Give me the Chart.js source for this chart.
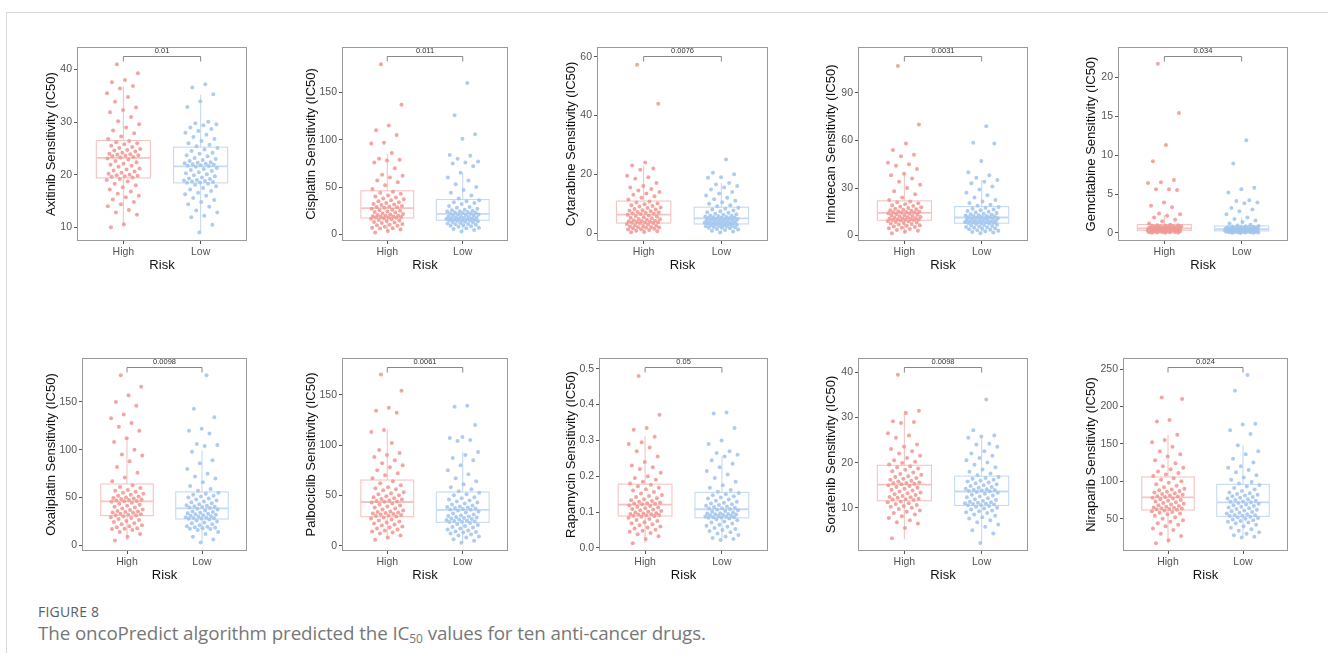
<!DOCTYPE html>
<html>
<head>
<meta charset="utf-8">
<script src="https://cdn.jsdelivr.net/npm/chart.js@4.4.1/dist/chart.umd.min.js"></script>
<style>
  html, body { margin: 0; padding: 0; background: #fff; }
  body { width: 1328px; height: 665px; position: relative; overflow: hidden; }
  .frame { position: absolute; left: 6px; top: 12px; width: 1322px; height: 640px;
           border-left: 1px solid #d9d9d9; border-top: 1px solid #d9d9d9; }
  canvas.panel { position: absolute; }
  .fig { position: absolute; left: 38px; top: 603px; font: 400 14px/18px "Open Sans", sans-serif;
         color: #55606b; letter-spacing: 0.2px; }
  .cap { position: absolute; left: 38px; top: 621px; font: 400 18.8px/24px "Open Sans", sans-serif;
         color: #777; white-space: nowrap; letter-spacing: -0.1px; }
  .cap sub { font-size: 12px; vertical-align: -3px; line-height: 0; }
</style>
</head>
<body>
<div class="frame"></div>
<div class="fig">FIGURE 8</div>
<div class="cap">The oncoPredict algorithm predicted the IC<sub>50</sub> values for ten anti-cancer drugs.</div>
<script>
/* ---------- Daten ---------- */
const CATEGORIES = ["High", "Low"];
const DRUGS = ["Axitinib", "Cisplatin", "Cytarabine", "Irinotecan", "Gemcitabine",
               "Oxaliplatin", "Palbociclib", "Rapamycin", "Sorafenib", "Niraparib"];
const P_VALUES = ["0.01", "0.011", "0.0076", "0.0031", "0.034",
                  "0.0098", "0.0061", "0.05", "0.0098", "0.024"];
const Y_MIN = [7.4, -7.1, -2.7, -3.4, -1.03, -5.9, -5.3, -0.0085, 0.4, 6.8];
const Y_MAX = [44.3, 198.2, 63.3, 118.9, 23.86, 196, 186.5, 0.53, 43.2, 264.7];
const Y_TICKS = [
  [10, 20, 30, 40], [0, 50, 100, 150], [0, 20, 40, 60], [0, 30, 60, 90], [0, 5, 10, 15, 20],
  [0, 50, 100, 150], [0, 50, 100, 150], [0, 0.1, 0.2, 0.3, 0.4, 0.5], [10, 20, 30, 40],
  [50, 100, 150, 200, 250]
];
// [Whisker unten, Q1, Median, Q3, Whisker oben]
const BOX_HIGH = [
  [10, 19.4, 23.2, 26.5, 36.9], [2, 17.3, 27.6, 46, 85], [0.3, 3.4, 6.3, 10.9, 23],
  [1.5, 9.7, 14.3, 21.9, 40], [0.02, 0.35, 0.6, 1.08, 2.3], [5, 31.1, 46, 64.2, 113],
  [6, 28.8, 43.4, 65.2, 115], [0.013, 0.089, 0.121, 0.178, 0.312], [3, 11.55, 15.1, 19.4, 31.5],
  [17, 61.6, 78.5, 105.7, 162]
];
const BOX_LOW = [
  [9, 18.45, 21.6, 25.25, 35.2], [3, 14.9, 21.5, 36.8, 65], [0.2, 3.1, 5.0, 8.8, 17],
  [1.5, 7.8, 11.4, 18.3, 35], [0.01, 0.26, 0.5, 0.9, 2.0], [3, 27.6, 38.7, 55.9, 99],
  [3, 23.2, 35.5, 53.3, 93.4], [0.022, 0.084, 0.108, 0.155, 0.255], [2.2, 10.5, 13.6, 17.0, 25.8],
  [25, 53, 71.8, 95.8, 148.5]
];

const AXITINIB_HIGH = [41.0, 39.3, 38.0, 37.6, 36.9, 36.4, 35.5, 34.8, 33.9, 32.8, 32.3, 31.9, 31.0, 30.2, 29.6, 29.0, 28.4, 27.9, 27.3, 26.8,
  26.4, 26.2, 26.0, 25.8, 25.5, 25.3, 25.1, 24.9, 24.7, 24.6, 24.4, 24.2, 24.0, 23.9, 23.8, 23.7, 23.6, 23.5, 23.4, 23.3,
  23.1, 22.9, 22.6, 22.4, 22.1, 21.9, 21.7, 21.5, 21.2, 21.0, 20.8, 20.6, 20.4, 20.2, 20.0, 19.9, 19.8, 19.7, 19.6, 19.5,
  19.2, 19.0, 18.7, 18.3, 18.0, 17.6, 17.2, 16.8, 16.4, 16.0, 15.7, 15.3, 14.8, 14.4, 14.0, 13.3, 12.8, 12.4, 10.6, 10.0];
const AXITINIB_LOW = [37.2, 36.6, 35.3, 34.0, 32.9, 30.1, 29.8, 29.6, 29.4, 29.0, 28.7, 28.3, 28.0, 27.6, 27.2, 26.8, 26.4, 26.0, 25.7, 25.4,
  25.1, 24.8, 24.5, 24.2, 24.0, 23.7, 23.5, 23.2, 23.0, 22.8, 22.6, 22.4, 22.3, 22.2, 22.1, 22.0, 21.9, 21.8, 21.7, 21.65,
  21.5, 21.3, 21.1, 20.9, 20.7, 20.5, 20.3, 20.1, 19.9, 19.7, 19.5, 19.3, 19.2, 19.0, 18.9, 18.8, 18.7, 18.6, 18.55, 18.5,
  18.3, 18.1, 17.8, 17.5, 17.2, 16.9, 16.6, 16.3, 16.0, 15.6, 15.2, 14.8, 14.4, 13.9, 13.2, 12.8, 12.2, 11.9, 10.5, 9.0];
const CISPLATIN_HIGH = [180, 137, 115, 110, 105, 97, 96, 86, 80, 79, 78, 76, 70, 63, 62, 60, 57, 55, 52, 48,
  45, 44, 43, 41, 40, 39, 38, 37, 36, 35, 34, 33, 32, 31.5, 31, 30, 29.5, 29, 28.5, 28,
  27, 26, 25.5, 25, 24, 23.5, 23, 22, 21.5, 21, 20.5, 20, 19.5, 19, 18.8, 18.5, 18.2, 18, 17.8, 17.5,
  17, 16.5, 16, 15, 14.5, 14, 13, 12.5, 12, 11, 10, 9.5, 9, 8, 7, 6.5, 6, 5, 3.5, 2];
const CISPLATIN_LOW = [160, 126, 106, 101, 84, 83, 80, 77, 76, 75, 72, 65, 60, 57, 53, 50, 47, 44, 41, 38,
  36, 35, 34, 33, 32, 30, 29, 28, 27, 26, 25.5, 25, 24.5, 24, 23.5, 23, 22.8, 22.5, 22, 21.8,
  21.2, 21, 20.5, 20, 19.5, 19, 18.6, 18.3, 18, 17.6, 17.3, 17, 16.7, 16.4, 16.1, 15.8, 15.5, 15.3, 15.1, 15,
  14.6, 14.2, 13.8, 13.4, 13, 12.5, 12, 11.5, 11, 10.5, 10, 9.5, 9, 8.5, 8, 7, 6.5, 5.5, 4.5, 3];
const CYTARABINE_HIGH = [57.3, 44, 24, 23, 22, 21.5, 19.5, 19, 18.5, 17, 16, 15.5, 15, 14.5, 14, 13.5, 13, 12.5, 12, 11.4,
  10.7, 10.4, 10.1, 9.8, 9.5, 9.2, 9, 8.7, 8.5, 8.2, 8, 7.8, 7.6, 7.4, 7.2, 7, 6.9, 6.7, 6.6, 6.5,
  6.2, 6, 5.8, 5.6, 5.4, 5.2, 5, 4.8, 4.7, 4.5, 4.4, 4.2, 4.1, 4, 3.9, 3.8, 3.7, 3.6, 3.5, 3.45,
  3.3, 3.1, 2.9, 2.7, 2.5, 2.4, 2.2, 2.1, 2, 1.9, 1.8, 1.6, 1.5, 1.3, 1.2, 1, 0.8, 0.6, 0.4, 0.3];
const CYTARABINE_LOW = [25, 20.5, 20, 19, 18.8, 17, 16.5, 16, 15.5, 14.8, 14, 13.5, 12.8, 12, 11.5, 11, 10.5, 10, 9.5, 9.1,
  8.6, 8.3, 8, 7.7, 7.4, 7.1, 6.9, 6.6, 6.4, 6.2, 6, 5.9, 5.7, 5.6, 5.5, 5.4, 5.3, 5.2, 5.1, 5.05,
  4.9, 4.8, 4.7, 4.6, 4.5, 4.4, 4.3, 4.2, 4.1, 4, 3.9, 3.8, 3.7, 3.6, 3.5, 3.4, 3.35, 3.3, 3.2, 3.15,
  3, 2.9, 2.8, 2.7, 2.6, 2.5, 2.4, 2.3, 2.2, 2.1, 2, 1.9, 1.8, 1.6, 1.4, 1.2, 1, 0.8, 0.5, 0.2];
const IRINOTECAN_HIGH = [107, 70, 58, 54, 51, 50, 46, 45, 44, 42, 39, 38, 36, 34, 32, 30, 28, 26, 24, 22.5,
  21.5, 21, 20.4, 19.8, 19.2, 18.7, 18.2, 17.8, 17.4, 17, 16.6, 16.3, 16, 15.7, 15.4, 15.1, 14.9, 14.7, 14.5, 14.4,
  14.1, 13.8, 13.5, 13.2, 12.9, 12.6, 12.3, 12, 11.7, 11.5, 11.2, 11, 10.8, 10.6, 10.4, 10.2, 10.1, 10, 9.9, 9.8,
  9.5, 9.2, 8.9, 8.6, 8.3, 8, 7.7, 7.3, 7, 6.6, 6.2, 5.8, 5.4, 5, 4.6, 4.2, 3.6, 3, 2.4, 1.5];
const IRINOTECAN_LOW = [69, 58.5, 58, 47, 40, 38, 36.5, 35, 34, 33, 31, 29, 27, 25.5, 24, 22.5, 21.5, 20.5, 19.5, 18.8,
  18, 17.5, 17, 16.5, 16, 15.5, 15, 14.6, 14.2, 13.8, 13.5, 13.2, 12.9, 12.6, 12.4, 12.2, 12, 11.8, 11.6, 11.5,
  11.2, 11, 10.8, 10.6, 10.4, 10.2, 10, 9.8, 9.6, 9.4, 9.2, 9, 8.8, 8.6, 8.5, 8.4, 8.2, 8.1, 8, 7.9,
  7.6, 7.3, 7, 6.7, 6.4, 6.1, 5.8, 5.5, 5.2, 4.9, 4.6, 4.3, 4, 3.7, 3.4, 3, 2.7, 2.3, 1.9, 1.5];
const GEMCITABINE_HIGH = [21.7, 15.4, 11.3, 9.2, 6.8, 6.5, 6.4, 5.6, 5.6, 5.5, 3.9, 3.5, 3.3, 2.5, 2.4, 2.2, 2.0, 1.7, 1.5, 1.2,
  1.05, 1.0, 0.98, 0.95, 0.92, 0.9, 0.87, 0.85, 0.82, 0.8, 0.78, 0.75, 0.72, 0.7, 0.68, 0.66, 0.65, 0.63, 0.62, 0.61,
  0.59, 0.57, 0.55, 0.53, 0.52, 0.5, 0.49, 0.47, 0.46, 0.45, 0.44, 0.43, 0.42, 0.41, 0.4, 0.39, 0.38, 0.37, 0.36, 0.355,
  0.34, 0.32, 0.3, 0.28, 0.27, 0.25, 0.23, 0.22, 0.2, 0.18, 0.17, 0.15, 0.13, 0.12, 0.1, 0.08, 0.07, 0.05, 0.03, 0.02];
const GEMCITABINE_LOW = [11.9, 8.9, 5.8, 5.6, 5.2, 4.2, 4.1, 3.9, 3.8, 3.2, 3.0, 2.8, 2.4, 2.0, 1.8, 1.6, 1.4, 1.2, 1.05, 0.95,
  0.88, 0.85, 0.82, 0.8, 0.77, 0.75, 0.72, 0.7, 0.68, 0.66, 0.64, 0.62, 0.6, 0.58, 0.56, 0.55, 0.54, 0.53, 0.52, 0.51,
  0.49, 0.47, 0.45, 0.44, 0.42, 0.41, 0.4, 0.38, 0.37, 0.36, 0.35, 0.34, 0.33, 0.32, 0.31, 0.3, 0.29, 0.28, 0.27, 0.265,
  0.25, 0.24, 0.22, 0.21, 0.2, 0.18, 0.17, 0.16, 0.15, 0.13, 0.12, 0.11, 0.1, 0.09, 0.08, 0.06, 0.05, 0.04, 0.02, 0.01];
const OXALIPLATIN_HIGH = [178, 166, 157, 150, 146, 137, 133, 128, 124, 120, 112, 108, 100, 95, 94, 88, 82, 76, 71, 67,
  63, 61, 60, 58, 57, 56, 55, 54, 53, 52, 51, 50, 49.5, 49, 48.5, 48, 47.5, 47, 46.5, 46.2,
  45.5, 44.5, 43.5, 42.5, 41.5, 40.5, 39.5, 38.5, 37.5, 37, 36, 35.5, 35, 34.5, 34, 33, 32.5, 32, 31.5, 31.3,
  30.5, 29.5, 28.5, 27.5, 26.5, 25.5, 24.5, 23, 22, 21, 20, 19, 18, 17.5, 17, 16, 14, 12, 9, 5];
const OXALIPLATIN_LOW = [178, 143, 134, 122, 120, 117, 106, 105, 104, 98, 89, 86, 80, 75, 72, 70, 66, 62, 59, 57,
  55, 54, 53, 52, 51, 50, 49, 48, 47, 46, 45, 44, 43, 42, 41.5, 41, 40.5, 40, 39.5, 39,
  38.3, 37.5, 36.5, 35.5, 35, 34, 33.5, 33, 32.5, 32, 31.5, 31, 30.5, 30, 29.5, 29, 28.7, 28.3, 28, 27.8,
  27, 26, 25, 24, 23, 22, 21, 20, 19.5, 19, 18.5, 18, 17.5, 17, 16, 14, 12, 9, 6, 3];
const PALBOCICLIB_HIGH = [170, 154, 137, 134, 132, 115, 113, 102, 95, 92, 90, 88, 85, 82, 80, 78, 75, 72, 70, 67,
  64, 62, 60, 58, 57, 56, 55, 53, 52, 51, 50, 49, 48, 47, 46.5, 46, 45, 44.5, 44, 43.7,
  43, 42, 41, 40, 39, 38, 37, 36, 35, 34, 33.5, 33, 32.5, 32, 31.5, 31, 30.5, 30, 29.5, 29,
  28, 27, 26, 25, 24, 23, 22, 21, 20, 19, 18, 17, 16, 15, 14, 13, 12, 10, 8, 6];
const PALBOCICLIB_LOW = [139, 138, 120, 108, 107, 105, 104, 93, 90, 87, 85, 80, 75, 71, 67, 64, 61, 58, 56, 54,
  52.5, 51, 50, 48, 47, 46, 45, 44, 43, 42, 41, 40, 39, 38.5, 38, 37.5, 37, 36.5, 36, 35.8,
  35, 34, 33, 32, 31, 30, 29.5, 29, 28.5, 28, 27.5, 27, 26.5, 26, 25.5, 25, 24.5, 24, 23.7, 23.4,
  22.5, 21.5, 20.5, 19.5, 18.5, 18, 17, 16, 15, 14, 13.5, 13, 12, 11, 10, 9, 8, 6.5, 5, 3];
const RAPAMYCIN_HIGH = [0.48, 0.372, 0.335, 0.33, 0.31, 0.295, 0.29, 0.28, 0.27, 0.255, 0.24, 0.23, 0.225, 0.22, 0.21, 0.2, 0.195, 0.19, 0.185, 0.18,
  0.176, 0.172, 0.168, 0.164, 0.16, 0.156, 0.152, 0.148, 0.145, 0.142, 0.139, 0.136, 0.133, 0.131, 0.129, 0.127, 0.125, 0.124, 0.123, 0.122,
  0.119, 0.117, 0.115, 0.113, 0.111, 0.109, 0.107, 0.105, 0.103, 0.101, 0.099, 0.097, 0.096, 0.095, 0.094, 0.093, 0.092, 0.091, 0.09, 0.0895,
  0.087, 0.084, 0.081, 0.078, 0.075, 0.072, 0.069, 0.066, 0.063, 0.06, 0.057, 0.054, 0.051, 0.048, 0.045, 0.042, 0.038, 0.033, 0.025, 0.013];
const RAPAMYCIN_LOW = [0.378, 0.375, 0.335, 0.3, 0.29, 0.27, 0.265, 0.26, 0.255, 0.245, 0.235, 0.225, 0.215, 0.205, 0.195, 0.185, 0.175, 0.168, 0.162, 0.157,
  0.153, 0.15, 0.147, 0.144, 0.141, 0.138, 0.135, 0.132, 0.129, 0.126, 0.124, 0.122, 0.12, 0.118, 0.116, 0.114, 0.112, 0.111, 0.11, 0.109,
  0.107, 0.105, 0.103, 0.101, 0.099, 0.097, 0.096, 0.095, 0.094, 0.093, 0.092, 0.091, 0.09, 0.089, 0.088, 0.087, 0.086, 0.0855, 0.085, 0.0845,
  0.082, 0.08, 0.077, 0.074, 0.071, 0.068, 0.065, 0.062, 0.059, 0.056, 0.053, 0.05, 0.047, 0.044, 0.04, 0.036, 0.032, 0.028, 0.025, 0.022];
const SORAFENIB_HIGH = [39.5, 31.5, 31, 29.2, 29, 28.8, 26.5, 26, 25.5, 24, 23.5, 23, 22.5, 22, 21.5, 21, 20.5, 20.2, 19.9, 19.6,
  19.2, 19, 18.7, 18.4, 18.1, 17.8, 17.5, 17.3, 17, 16.8, 16.6, 16.4, 16.2, 16, 15.8, 15.6, 15.5, 15.4, 15.3, 15.2,
  15, 14.8, 14.6, 14.4, 14.2, 14, 13.8, 13.6, 13.4, 13.2, 13, 12.8, 12.6, 12.4, 12.3, 12.2, 12, 11.9, 11.8, 11.7,
  11.4, 11.2, 11, 10.8, 10.6, 10.4, 10.2, 10, 9.7, 9.4, 9.1, 8.8, 8.5, 8.1, 7.7, 7.2, 6.8, 6.5, 5.5, 3.2];
const SORAFENIB_LOW = [34, 27.2, 26, 25.8, 25.5, 24.2, 24, 23.5, 22.5, 22, 21.5, 21, 20.5, 20, 19.5, 19, 18.5, 18, 17.6, 17.2,
  16.8, 16.6, 16.4, 16.2, 16, 15.8, 15.6, 15.4, 15.2, 15, 14.8, 14.6, 14.4, 14.2, 14.1, 14, 13.9, 13.8, 13.7, 13.65,
  13.5, 13.3, 13.1, 12.9, 12.7, 12.5, 12.3, 12.1, 11.9, 11.7, 11.5, 11.3, 11.2, 11.1, 11, 10.9, 10.8, 10.7, 10.6, 10.55,
  10.4, 10.2, 10, 9.8, 9.6, 9.4, 9.2, 9, 8.8, 8.5, 8.2, 7.9, 7.6, 7.2, 6.8, 6.3, 5.8, 5, 4.3, 2.2];
const NIRAPARIB_HIGH = [212, 210, 182, 180, 162, 155, 152, 146, 140, 136, 133, 128, 124, 120, 118, 116, 113, 111, 109, 107,
  104, 102, 100, 98, 96, 94, 92, 90, 89, 88, 87, 86, 85, 84, 83, 82, 81, 80, 79.5, 79,
  78, 77, 76, 75, 74, 73, 72, 71, 70, 69, 68, 67, 66, 65, 64.5, 64, 63.5, 63, 62.5, 62,
  61, 60, 59, 58, 57, 56, 54, 52, 50, 48, 46, 44, 42, 40, 37, 35, 30, 27, 21, 17];
const NIRAPARIB_LOW = [242, 221, 177, 176, 168, 163, 148, 140, 136, 130, 125, 120, 118, 115, 112, 108, 105, 102, 99, 97,
  95, 93, 91, 89, 87, 85, 84, 83, 82, 81, 80, 79, 78, 77, 76, 75, 74, 73, 72.5, 72,
  71, 70, 69, 68, 67, 66, 65, 64, 63, 62, 61, 60, 59, 58, 57, 56, 55, 54.5, 54, 53.5,
  52.5, 52, 51, 50, 49, 48, 47, 46, 45, 44, 42, 40, 38, 36, 34, 32, 30, 28, 26, 25];

const POINTS_HIGH = [AXITINIB_HIGH, CISPLATIN_HIGH, CYTARABINE_HIGH, IRINOTECAN_HIGH, GEMCITABINE_HIGH,
  OXALIPLATIN_HIGH, PALBOCICLIB_HIGH, RAPAMYCIN_HIGH, SORAFENIB_HIGH, NIRAPARIB_HIGH];
const POINTS_LOW = [AXITINIB_LOW, CISPLATIN_LOW, CYTARABINE_LOW, IRINOTECAN_LOW, GEMCITABINE_LOW,
  OXALIPLATIN_LOW, PALBOCICLIB_LOW, RAPAMYCIN_LOW, SORAFENIB_LOW, NIRAPARIB_LOW];

/* ---------- Layout (Pixel) ---------- */
// Plot-Rahmen je Panel: [links, oben, rechts, unten]; TITLE_X = Mitte des Y-Titels
const PANEL_BOX = [
  [77, 47, 247, 241], [342, 47, 508, 241], [597, 47, 768, 241], [858, 47, 1028, 241], [1118, 47, 1288, 241],
  [82, 358, 247, 551], [342, 358, 508, 551], [599, 358, 768, 551], [858, 358, 1028, 551], [1123, 358, 1288, 551]
];
const TITLE_X = [52, 312, 572, 832, 1092, 52, 312, 572, 832, 1092];

const FONT = "'Liberation Sans', Arial, Helvetica, sans-serif";
const COL_PT = ["rgba(240,152,148,0.88)", "rgba(162,197,238,0.88)"];
const COL_BOX = ["#f5c4c2", "#c5daf4"];
const PAD_TOP = 10, PAD_RIGHT = 4, X_AXIS_H = 32;

// deterministische Streuung in x (nur Position, keine Daten)
const jitter = (i) => (((i * 0.6180339887 + 0.31) % 1) - 0.5) * 0.44;

function boxPlugin(i) {
  const stats = [BOX_HIGH[i], BOX_LOW[i]];
  return {
    id: "boxes" + i,
    beforeDatasetsDraw(chart) {
      const { ctx, chartArea: a, scales: { x, y } } = chart;
      ctx.save();
      ctx.beginPath();
      ctx.rect(a.left, a.top, a.right - a.left, a.bottom - a.top);
      ctx.clip();
      stats.forEach((s, k) => {
        const cx = x.getPixelForValue(k + 1);
        const x0 = x.getPixelForValue(k + 1 - 0.35);
        const x1 = x.getPixelForValue(k + 1 + 0.35);
        const [lo, q1, med, q3, hi] = s.map((v) => y.getPixelForValue(v));
        ctx.strokeStyle = COL_BOX[k];
        ctx.lineWidth = 1.1;
        ctx.beginPath();
        ctx.moveTo(cx, hi); ctx.lineTo(cx, q3);
        ctx.moveTo(cx, q1); ctx.lineTo(cx, lo);
        ctx.stroke();
        ctx.strokeRect(x0, q3, x1 - x0, q1 - q3);
        ctx.lineWidth = 1.8;
        ctx.beginPath();
        ctx.moveTo(x0, med); ctx.lineTo(x1, med);
        ctx.stroke();
      });
      ctx.restore();
    },
    afterDraw(chart) {
      const { ctx, chartArea: a, scales: { x } } = chart;
      ctx.save();
      // Panel-Rahmen
      ctx.strokeStyle = "#9a9a9a";
      ctx.lineWidth = 1;
      ctx.strokeRect(Math.round(a.left) + 0.5, Math.round(a.top) + 0.5,
        Math.round(a.right - a.left) - 1, Math.round(a.bottom - a.top) - 1);
      // Signifikanz-Klammer
      const xa = x.getPixelForValue(1), xb = x.getPixelForValue(2);
      const yb = a.top + 9.5;
      ctx.strokeStyle = "#6a6a6a";
      ctx.lineWidth = 0.8;
      ctx.beginPath();
      ctx.moveTo(xa, yb + 5); ctx.lineTo(xa, yb); ctx.lineTo(xb, yb); ctx.lineTo(xb, yb + 5);
      ctx.stroke();
      ctx.fillStyle = "#333";
      ctx.font = "7.5px " + FONT;
      ctx.textAlign = "center";
      ctx.textBaseline = "middle";
      ctx.fillText(P_VALUES[i], (xa + xb) / 2, a.top + 4);
      ctx.restore();
    }
  };
}

DRUGS.forEach((drug, i) => {
  const [bl, bt, br, bb] = PANEL_BOX[i];
  const left = Math.round(TITLE_X[i] - 7.8);
  const yAxisW = bl - left;
  const canvas = document.createElement("canvas");
  canvas.className = "panel";
  canvas.width = yAxisW + (br - bl) + PAD_RIGHT;
  canvas.height = PAD_TOP + (bb - bt) + X_AXIS_H;
  canvas.style.left = left + "px";
  canvas.style.top = (bt - PAD_TOP) + "px";
  document.body.appendChild(canvas);

  const decimals = i === 7 ? 1 : 0;

  new Chart(canvas.getContext("2d"), {
    type: "scatter",
    data: {
      datasets: [POINTS_HIGH[i], POINTS_LOW[i]].map((vals, k) => ({
        label: CATEGORIES[k],
        data: vals.map((v, j) => ({ x: k + 1 + jitter(j + k * 7), y: v })),
        backgroundColor: COL_PT[k],
        borderWidth: 0,
        pointRadius: 2.0,
      })),
    },
    options: {
      responsive: false,
      animation: false,
      devicePixelRatio: 1,
      layout: { padding: { top: PAD_TOP, right: PAD_RIGHT, left: 0, bottom: 0 } },
      plugins: { legend: { display: false }, tooltip: { enabled: false } },
      scales: {
        x: {
          type: "linear",
          min: 0.4,
          max: 2.6,
          afterBuildTicks: (s) => { s.ticks = [{ value: 1 }, { value: 2 }]; },
          afterFit: (s) => { s.height = X_AXIS_H; },
          ticks: { color: "#555", font: { family: FONT, size: 10.5 }, padding: 1.5,
                   callback: (v) => CATEGORIES[v - 1] },
          grid: { drawOnChartArea: false, drawTicks: true, tickLength: 3, tickColor: "#555" },
          border: { display: false },
          title: { display: true, text: "Risk", color: "#111", font: { family: FONT, size: 13 },
                   padding: { top: 0, bottom: 0 } },
        },
        y: {
          min: Y_MIN[i],
          max: Y_MAX[i],
          afterBuildTicks: (s) => { s.ticks = Y_TICKS[i].map((v) => ({ value: v })); },
          afterFit: (s) => { s.width = yAxisW; },
          ticks: { color: "#555", font: { family: FONT, size: 10.5 }, padding: 2,
                   callback: (v) => v.toFixed(decimals) },
          grid: { drawOnChartArea: false, drawTicks: true, tickLength: 3, tickColor: "#555" },
          border: { display: false },
          title: { display: true, text: drug + " Sensitivity (IC50)", color: "#111",
                   font: { family: FONT, size: 13 }, padding: { top: 0, bottom: 0 } },
        },
      },
    },
    plugins: [boxPlugin(i)],
  });
});
</script>
</body>
</html>
